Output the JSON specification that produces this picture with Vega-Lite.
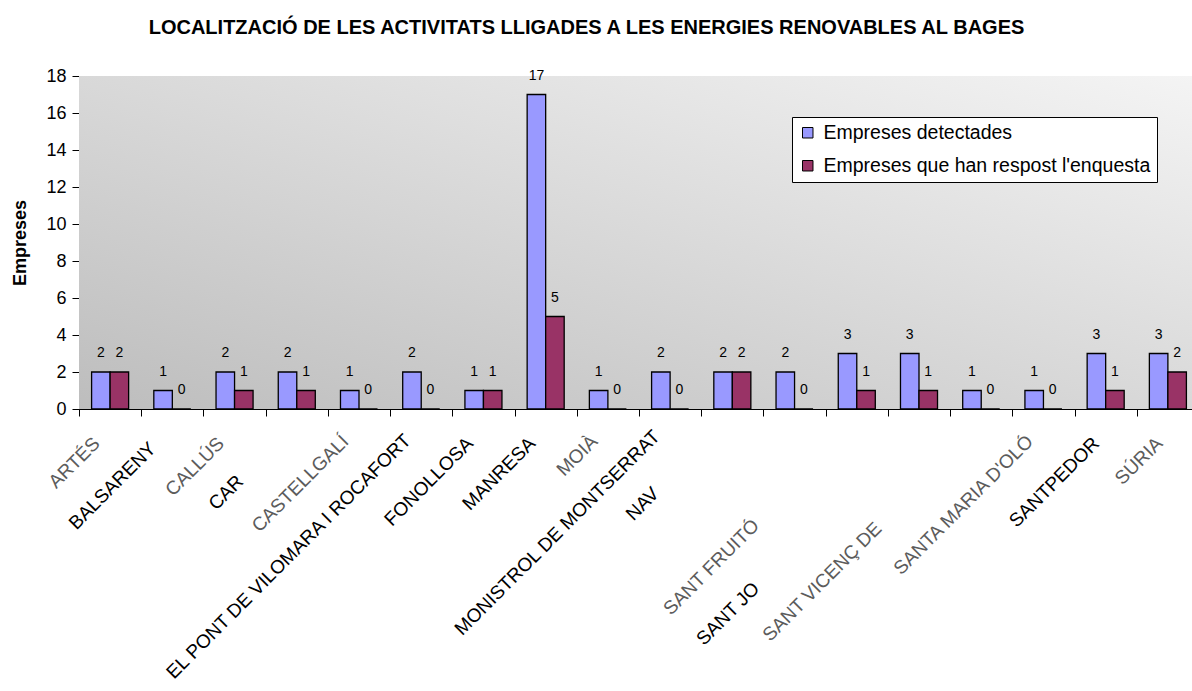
{
  "$schema": "https://vega.github.io/schema/vega-lite/v6.json",
  "autosize": {"type": "none"},
  "padding": {"left": 79, "top": 76, "right": 0, "bottom": 282},
  "width": 1113,
  "height": 333,
  "background": "white",
  "title": {
    "text": "LOCALITZACIÓ DE LES ACTIVITATS LLIGADES A LES ENERGIES RENOVABLES AL BAGES",
    "font": "Liberation Sans",
    "fontSize": 20,
    "fontWeight": "bold",
    "color": "black",
    "anchor": "middle",
    "dx": -49,
    "baseline": "alphabetic",
    "offset": 13
  },
  "view": {"stroke": null},
  "config": {"font": "Liberation Sans"},
  "data": {
    "values": [
      {"municipi": "ARTÉS", "serie": "Empreses detectades", "empreses": 2},
      {"municipi": "ARTÉS", "serie": "Empreses que han respost l'enquesta", "empreses": 2},
      {"municipi": "BALSARENY", "serie": "Empreses detectades", "empreses": 1},
      {"municipi": "BALSARENY", "serie": "Empreses que han respost l'enquesta", "empreses": 0},
      {"municipi": "CALLÚS", "serie": "Empreses detectades", "empreses": 2},
      {"municipi": "CALLÚS", "serie": "Empreses que han respost l'enquesta", "empreses": 1},
      {"municipi": "CAR", "serie": "Empreses detectades", "empreses": 2},
      {"municipi": "CAR", "serie": "Empreses que han respost l'enquesta", "empreses": 1},
      {"municipi": "CASTELLGALÍ", "serie": "Empreses detectades", "empreses": 1},
      {"municipi": "CASTELLGALÍ", "serie": "Empreses que han respost l'enquesta", "empreses": 0},
      {"municipi": "EL PONT DE VILOMARA I ROCAFORT", "serie": "Empreses detectades", "empreses": 2},
      {"municipi": "EL PONT DE VILOMARA I ROCAFORT", "serie": "Empreses que han respost l'enquesta", "empreses": 0},
      {"municipi": "FONOLLOSA", "serie": "Empreses detectades", "empreses": 1},
      {"municipi": "FONOLLOSA", "serie": "Empreses que han respost l'enquesta", "empreses": 1},
      {"municipi": "MANRESA", "serie": "Empreses detectades", "empreses": 17},
      {"municipi": "MANRESA", "serie": "Empreses que han respost l'enquesta", "empreses": 5},
      {"municipi": "MOIÀ", "serie": "Empreses detectades", "empreses": 1},
      {"municipi": "MOIÀ", "serie": "Empreses que han respost l'enquesta", "empreses": 0},
      {"municipi": "MONISTROL DE MONTSERRAT", "serie": "Empreses detectades", "empreses": 2},
      {"municipi": "MONISTROL DE MONTSERRAT", "serie": "Empreses que han respost l'enquesta", "empreses": 0},
      {"municipi": "NAV", "serie": "Empreses detectades", "empreses": 2},
      {"municipi": "NAV", "serie": "Empreses que han respost l'enquesta", "empreses": 2},
      {"municipi": "SANT FRUITÓ", "serie": "Empreses detectades", "empreses": 2},
      {"municipi": "SANT FRUITÓ", "serie": "Empreses que han respost l'enquesta", "empreses": 0},
      {"municipi": "SANT JO", "serie": "Empreses detectades", "empreses": 3},
      {"municipi": "SANT JO", "serie": "Empreses que han respost l'enquesta", "empreses": 1},
      {"municipi": "SANT VICENÇ DE", "serie": "Empreses detectades", "empreses": 3},
      {"municipi": "SANT VICENÇ DE", "serie": "Empreses que han respost l'enquesta", "empreses": 1},
      {"municipi": " ", "serie": "Empreses detectades", "empreses": 1},
      {"municipi": " ", "serie": "Empreses que han respost l'enquesta", "empreses": 0},
      {"municipi": "SANTA MARIA D'OLÓ", "serie": "Empreses detectades", "empreses": 1},
      {"municipi": "SANTA MARIA D'OLÓ", "serie": "Empreses que han respost l'enquesta", "empreses": 0},
      {"municipi": "SANTPEDOR", "serie": "Empreses detectades", "empreses": 3},
      {"municipi": "SANTPEDOR", "serie": "Empreses que han respost l'enquesta", "empreses": 1},
      {"municipi": "SÚRIA", "serie": "Empreses detectades", "empreses": 3},
      {"municipi": "SÚRIA", "serie": "Empreses que han respost l'enquesta", "empreses": 2}
    ]
  },
  "layer": [
    {
      "data": {"values": [{}]},
      "mark": {
        "type": "rect",
        "color": {
          "gradient": "linear",
          "x1": 0, "y1": 1, "x2": 1, "y2": 0,
          "stops": [
            {"offset": 0, "color": "#bdbdbd"},
            {"offset": 1, "color": "#f4f4f4"}
          ]
        }
      },
      "encoding": {
        "x": {"value": 0},
        "x2": {"value": "width"},
        "y": {"value": 0},
        "y2": {"value": "height"}
      }
    },
    {
      "encoding": {
        "x": {
          "field": "municipi",
          "type": "nominal",
          "sort": null,
          "scale": {"range": [0, 1120], "paddingInner": 0, "paddingOuter": 0},
          "axis": {
            "title": null,
            "tickBand": "extent",
            "tickSize": 7,
            "tickColor": "black",
            "domainColor": "black",
            "grid": false,
            "labelAngle": -45,
            "labelAlign": "right",
            "labelBaseline": "middle",
            "labelFont": "Liberation Sans",
            "labelFontSize": 19,
            "labelOverlap": false,
            "labelLimit": 500,
            "labelColor": {
              "condition": {"test": "test(/[ÀÉÍÓÚÇ]/, datum.value)", "value": "#5c5c5c"},
              "value": "black"
            },
            "labelOffset": {
              "condition": [
                {"test": "datum.value === 'BALSARENY'", "value": -20},
                {"test": "datum.value === 'CAR'", "value": -57},
                {"test": "datum.value === 'NAV'", "value": -77},
                {"test": "datum.value === 'SANT FRUITÓ'", "value": -39},
                {"test": "datum.value === 'SANT JO'", "value": -101},
                {"test": "datum.value === 'SANT VICENÇ DE'", "value": -41},
                {"test": "datum.value === 'SANTPEDOR'", "value": -10},
                {"test": "datum.value === 'SÚRIA'", "value": -9}
              ],
              "value": -14
            },
            "labelPadding": {
              "condition": [
                {"test": "datum.value === 'BALSARENY'", "value": 29},
                {"test": "datum.value === 'CAR'", "value": 62},
                {"test": "datum.value === 'NAV'", "value": 74},
                {"test": "datum.value === 'SANT FRUITÓ'", "value": 106},
                {"test": "datum.value === 'SANT JO'", "value": 169},
                {"test": "datum.value === 'SANT VICENÇ DE'", "value": 109},
                {"test": "datum.value === 'MONISTROL DE MONTSERRAT'", "value": 17},
                {"test": "datum.value === 'EL PONT DE VILOMARA I ROCAFORT'", "value": 21},
                {"test": "datum.value === 'CASTELLGALÍ' || datum.value === 'MOIÀ' || datum.value === \"SANTA MARIA D'OLÓ\"", "value": 22}
              ],
              "value": 24
            }
          }
        },
        "xOffset": {
          "field": "serie",
          "type": "nominal",
          "scale": {"paddingInner": 0, "paddingOuter": 0.68}
        },
        "y": {
          "field": "empreses",
          "type": "quantitative",
          "scale": {"domain": [0, 18], "nice": false},
          "axis": {
            "title": "Empreses",
            "titleFont": "Liberation Sans",
            "titleFontSize": 18,
            "titleFontWeight": "bold",
            "titleColor": "black",
            "titlePadding": 16,
            "values": [0, 2, 4, 6, 8, 10, 12, 14, 16, 18],
            "grid": true,
            "gridColor": "#1e1e1e",
            "domainColor": "black",
            "tickColor": "black",
            "tickSize": 7,
            "labelPadding": 6,
            "labelFont": "Liberation Sans",
            "labelFontSize": 18,
            "labelColor": "black"
          }
        }
      },
      "layer": [
        {
          "mark": {"type": "bar", "stroke": "black", "strokeWidth": 1.3},
          "encoding": {
            "color": {
              "field": "serie",
              "type": "nominal",
              "scale": {
                "domain": ["Empreses detectades", "Empreses que han respost l'enquesta"],
                "range": ["#9999ff", "#993366"]
              },
              "legend": {
                "title": null,
                "orient": "none",
                "legendX": 713,
                "legendY": 41,
                "fillColor": "white",
                "strokeColor": "black",
                "cornerRadius": 0,
                "padding": 6,
                "rowPadding": 12,
                "symbolType": "square",
                "symbolSize": 110,
                "symbolStrokeColor": "black",
                "symbolStrokeWidth": 1,
                "labelFont": "Liberation Sans",
                "labelFontSize": 19.5,
                "labelColor": "black",
                "labelLimit": 500,
                "labelOffset": 6
              }
            }
          }
        },
        {
          "mark": {
            "type": "text",
            "baseline": "alphabetic",
            "dy": -15,
            "font": "Liberation Sans",
            "fontSize": 14,
            "color": "black"
          },
          "encoding": {
            "text": {"field": "empreses", "type": "quantitative"}
          }
        }
      ]
    }
  ]
}
